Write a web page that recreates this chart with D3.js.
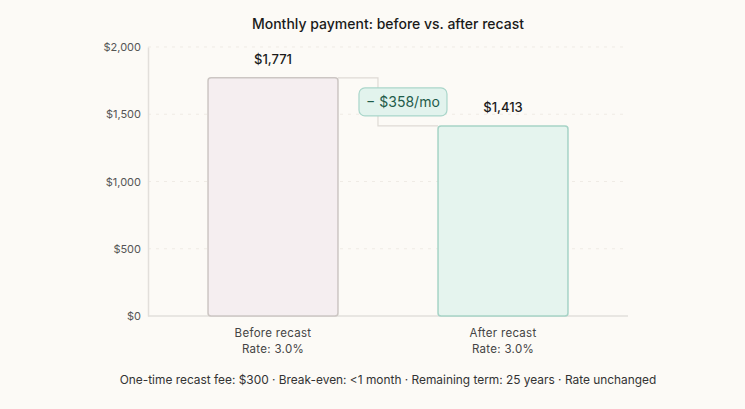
<!DOCTYPE html>
<html>
<head>
<meta charset="utf-8">
<script src="https://cdn.jsdelivr.net/npm/d3@7"></script>
<style>
  body { margin: 0; background: #fcfaf6; }
  svg { display: block; font-family: "Inter", "Noto Sans", sans-serif; }
</style>
</head>
<body>
<div id="chart"></div>
<script>
// data
var categories = ["Before recast", "After recast"];
var rateLabels = ["Rate: 3.0%", "Rate: 3.0%"];
var payments = [1771, 1413];
var yTicks = [0, 500, 1000, 1500, 2000];
var savingLabel = "\u2212 $358/mo";
var footnote = "One-time recast fee: $300 \u00b7 Break-even: <1 month \u00b7 Remaining term: 25 years \u00b7 Rate unchanged";

var W = 745, H = 409;
var margin = {top: 47, right: 117, bottom: 93, left: 148},
    width = W - margin.left - margin.right,
    height = H - margin.top - margin.bottom;

var svg = d3.select("#chart").append("svg")
    .attr("width", W).attr("height", H);

svg.append("rect").attr("width", W).attr("height", H).attr("fill", "#fcfaf6");

svg.append("text")
  .attr("x", margin.left + width / 2).attr("y", 29)
  .attr("text-anchor", "middle")
  .attr("font-size", 14).attr("font-weight", 500)
  .attr("fill", "#1a1a1a")
  .text("Monthly payment: before vs. after recast");

var g = svg.append("g")
  .attr("transform", "translate(" + margin.left + "," + margin.top + ")");

var x = d3.scaleBand()
  .domain(categories)
  .range([0, width])
  .paddingInner(0.435)
  .paddingOuter(0.261);

var y = d3.scaleLinear()
  .domain([0, 2000])
  .range([height, 0]);

// gridlines
g.selectAll(".grid")
  .data(yTicks.filter(function(d) { return d > 0; }))
  .enter().append("line")
    .attr("x1", 0).attr("x2", width - 3)
    .attr("y1", function(d) { return y(d); })
    .attr("y2", function(d) { return y(d); })
    .attr("stroke", "#efebe5")
    .attr("stroke-dasharray", "3,5");

// y axis
var yAxis = g.append("g")
  .call(d3.axisLeft(y).tickValues(yTicks).tickSize(0).tickPadding(7)
    .tickFormat(function(d) { return "$" + d3.format(",")(d); }));
yAxis.select(".domain").attr("stroke", "#e2dfdb").attr("stroke-width", 1.5);
yAxis.selectAll("text")
  .attr("font-size", 11).attr("fill", "#555")
  .attr("font-family", "Inter, sans-serif");

// baseline
g.append("line")
  .attr("x1", 0).attr("x2", width)
  .attr("y1", height).attr("y2", height)
  .attr("stroke", "#e2dfdb").attr("stroke-width", 1.5);

// connector
var x0 = x(categories[0]) + x.bandwidth(),
    x1 = x(categories[1]),
    xm = x0 + 40;
g.append("path")
  .attr("d", "M" + x0 + "," + y(payments[0]) + "H" + xm + "V" + y(payments[1]) + "H" + x1)
  .attr("fill", "none")
  .attr("stroke", "#dedad5")
  .attr("stroke-width", 1.2);

// bars
var fills = ["#f5eef0", "#e5f4ee"],
    strokes = ["#ccc6c3", "#a6d3c6"];
g.selectAll(".bar")
  .data(payments)
  .enter().append("rect")
    .attr("x", function(d, i) { return x(categories[i]); })
    .attr("y", function(d) { return y(d); })
    .attr("width", x.bandwidth())
    .attr("height", function(d) { return height - y(d); })
    .attr("rx", 3)
    .attr("fill", function(d, i) { return fills[i]; })
    .attr("stroke", function(d, i) { return strokes[i]; })
    .attr("stroke-width", 1.5);

// value labels
g.selectAll(".val")
  .data(payments)
  .enter().append("text")
    .attr("x", function(d, i) { return x(categories[i]) + x.bandwidth() / 2; })
    .attr("y", function(d) { return y(d) - 14; })
    .attr("text-anchor", "middle")
    .attr("font-size", 13).attr("font-weight", 500)
    .attr("fill", "#1a1a1a")
    .text(function(d) { return "$" + d3.format(",")(d); });

// badge
var bx = xm + 25, by = (y(payments[0]) + y(payments[1])) / 2;
g.append("rect")
  .attr("x", bx - 44).attr("y", by - 14)
  .attr("width", 88).attr("height", 28)
  .attr("rx", 6)
  .attr("fill", "#e2f3ed")
  .attr("stroke", "#a9d6ca").attr("stroke-width", 1.2);
g.append("text")
  .attr("x", bx).attr("y", by + 5)
  .attr("text-anchor", "middle")
  .attr("font-size", 14)
  .attr("fill", "#1f5c4a")
  .text(savingLabel);

// category labels
var cat = g.selectAll(".cat")
  .data(categories)
  .enter().append("text")
    .attr("x", function(d) { return x(d) + x.bandwidth() / 2; })
    .attr("y", height + 21)
    .attr("text-anchor", "middle")
    .attr("font-size", 11.5).attr("fill", "#444")
    .attr("letter-spacing", 0.3);
cat.append("tspan").text(function(d) { return d; });
cat.append("tspan")
  .attr("x", function(d) { return x(d) + x.bandwidth() / 2; })
  .attr("dy", 16)
  .text(function(d, i) { return rateLabels[i]; });

// footnote
svg.append("text")
  .attr("x", margin.left + width / 2).attr("y", 384)
  .attr("text-anchor", "middle")
  .attr("font-size", 11.9).attr("fill", "#333")
  .text(footnote);
</script>
</body>
</html>
